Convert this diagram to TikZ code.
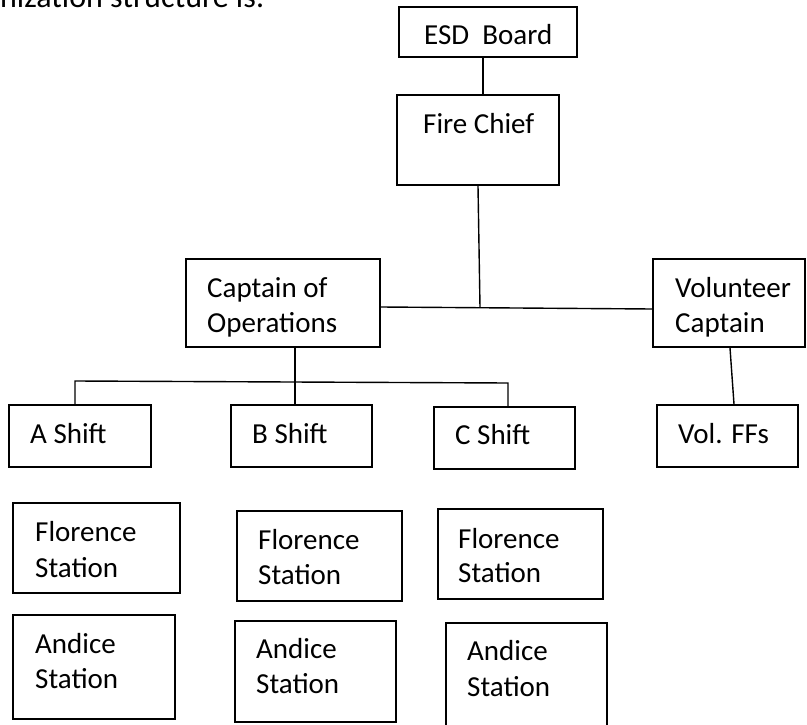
\documentclass[tikz,border=0pt]{standalone}
\usepackage{fontspec}
\setmainfont{Carlito}
\usetikzlibrary{fit}
\begin{document}
\begin{tikzpicture}[x=1pt,y=-1pt,
  box/.style={draw, line width=1.7pt, inner sep=0pt},
  txt/.style={inner sep=0pt, anchor=base west, font=\fontsize{29}{35}\selectfont},
  conn/.style={line width=1.4pt}]
\useasboundingbox (0,0) rectangle (807,725);
\clip (0,0) rectangle (807,725);
\fill[white] (0,0) rectangle (807,725);

% header fragment
\node[inner sep=0pt, anchor=base west, font=\fontsize{32}{38}\selectfont] (hdr) at (0,8) {nization structure is:};

% boxes
\node[box, fit={(399,7) (577,57)}] (esd) {};
\node[box, fit={(397,95) (559,185)}] (fc) {};
\node[box, fit={(186,259) (380,347)}] (capops) {};
\node[box, fit={(653,259) (805,347)}] (volcap) {};
\node[box, fit={(9,405) (151,467)}] (ashift) {};
\node[box, fit={(231,405) (372,467)}] (bshift) {};
\node[box, fit={(434,407) (575,469)}] (cshift) {};
\node[box, fit={(657,405) (798,467)}] (volffs) {};
\node[box, fit={(13,503) (180,593)}] (flo1) {};
\node[box, fit={(237,511) (402,601)}] (flo2) {};
\node[box, fit={(438,509) (603,599)}] (flo3) {};
\node[box, fit={(13,615) (175,719)}] (and1) {};
\node[box, fit={(235,621) (396,722)}] (and2) {};
\node[box, fit={(446,623) (607,730)}] (and3) {};

% texts
\node[txt] (t1) at (424,45) {ESD~~Board};
\node[txt] (t2) at (423,133) {Fire Chief};
\node[txt] (t3) at (207,297) {Captain of};
\node[txt] (t4) at (207,332) {Operations};
\node[txt] (t5) at (675,297) {Volunteer};
\node[txt] (t6) at (675,332) {Captain};
\node[txt] (t7) at (30,443) {A Shift};
\node[txt] (t8) at (252,443) {B Shift};
\node[txt] (t9) at (455,444) {C Shift};
\node[txt] (t10) at (678,443) {Vol. FFs};
\node[txt] (t11) at (35,541) {Florence};
\node[txt] (t12) at (35,577) {Station};
\node[txt] (t13) at (258,549) {Florence};
\node[txt] (t14) at (258,584) {Station};
\node[txt] (t15) at (458,548) {Florence};
\node[txt] (t16) at (458,582) {Station};
\node[txt] (t17) at (35,653) {Andice};
\node[txt] (t18) at (35,688) {Station};
\node[txt] (t19) at (256,658) {Andice};
\node[txt] (t20) at (256,693) {Station};
\node[txt] (t21) at (467,660) {Andice};
\node[txt] (t22) at (467,696) {Station};

% connectors
\coordinate (jt) at (480,307);
\coordinate (busL) at (75,381);
\coordinate (busR) at (508,383);
\draw[conn] ([xshift=-5pt]esd.south) -- ([xshift=5pt]fc.north);
\draw[conn] (fc.south) -- (jt);
\draw[conn] ([yshift=-4pt]capops.east) -- ([yshift=-6pt]volcap.west);
\draw[conn] ([xshift=12pt]capops.south) -- ([xshift=-6.5pt]bshift.north);
\draw[conn] ([xshift=-5pt]ashift.north) -- (busL) -- (busR) -- ([xshift=3.5pt]cshift.north);
\draw[conn] ([xshift=1pt]volcap.south) -- ([xshift=6.5pt]volffs.north);
\end{tikzpicture}
\end{document}
